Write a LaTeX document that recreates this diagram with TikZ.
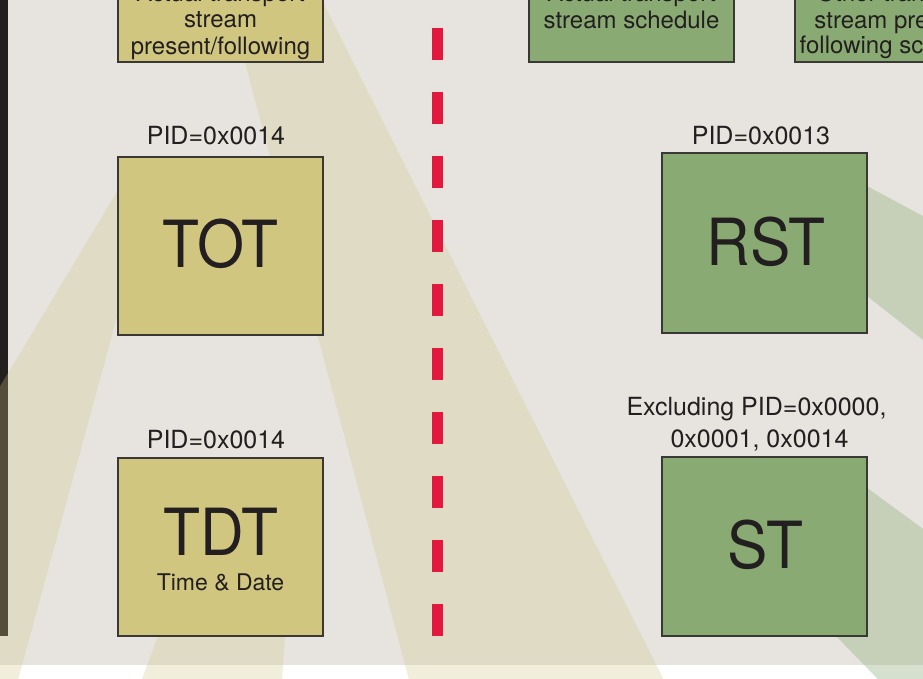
\documentclass[tikz,border=0pt]{standalone}
\usepackage{fontspec}
\setmainfont{TeX Gyre Heros}
\usepackage{graphicx}
\definecolor{bgc}{RGB}{231,228,224}
\definecolor{khaki}{RGB}{208,198,128}
\definecolor{sgreen}{RGB}{137,171,115}
\definecolor{edgec}{RGB}{58,56,52}
\definecolor{ink}{RGB}{35,31,32}
\definecolor{dashred}{RGB}{226,24,62}
\begin{document}
\begin{tikzpicture}[x=1pt,y=-1pt,
  kbox/.style={draw=edgec, line width=1.3pt, fill=khaki, rectangle, inner sep=0pt, minimum width=205pt},
  gbox/.style={draw=edgec, line width=1.3pt, fill=sgreen, rectangle, inner sep=0pt, minimum width=205pt},
  kbeam/.style={fill=khaki, fill opacity=0.28},
  gbeam/.style={fill=sgreen, fill opacity=0.35},
  lbl/.style={inner sep=0pt, anchor=base, text=ink, font=\fontsize{24}{28}\selectfont},
  pidlbl/.style={lbl, font=\fontsize{25}{29}\selectfont},
  big/.style={inner sep=0pt, anchor=base, text=ink, font=\fontsize{65}{70}\selectfont},
  divider/.style={draw=dashred, line width=11pt, dash pattern=on 32pt off 32pt}
]
\useasboundingbox (0,0) rectangle (923,679);
\clip (0,0) rectangle (923,679);
% background
\fill[bgc] (0,0) rectangle (923,665);
\fill[white] (0,665) rectangle (923,679);
% left bar
\fill[ink] (0,-5) rectangle (8,636);
% beams
\fill[kbeam] (124,180) -- (160,180) -- (160,290) -- (124.4,290) -- (18.3,679) -- (-10,679) -- (-10,403) -- cycle;
\fill[kbeam] (225.8,-10) -- (316.8,-10) -- (663.4,679) -- (408.8,679) -- cycle;
\fill[kbeam] (171.4,600) -- (287.5,600) -- (282,679) -- (142,679) -- cycle;
\fill[gbeam] (840,171.5) -- (930,219.8) -- (930,345.5) -- (840,274.8) -- cycle;
\fill[gbeam] (840,468) -- (930,534) -- (930,679) -- (877.7,679) -- (801,600) -- cycle;
% top boxes
\node[kbox, minimum height=142pt] (boxa) at (220.5,-9) {};
\node[gbox, minimum height=142pt] (boxb) at (631.5,-9) {};
\node[gbox, minimum height=142pt] (boxc) at (897.5,-9) {};
\node[lbl] (a1) at (220.5,1.2) {Actual transport};
\node[lbl] (a2) at (220.5,27.7) {stream};
\node[lbl] (a3) at (220.5,54.3) {present/following};
\node[lbl] (b1) at (631.5,1.8) {Actual transport};
\node[lbl] (b2) at (631.5,28.3) {stream schedule};
\node[lbl] (c1) at (897.5,1.8) {Other transport};
\node[lbl] (c2) at (897.5,28.3) {stream present/};
\node[lbl] (c3) at (897.5,53.8) {following schedule};
% main boxes
\node[kbox, minimum height=178pt] (tot) at (220.5,246) {};
\node[kbox, minimum height=178pt] (tdt) at (220.5,547) {};
\node[gbox, minimum height=180pt] (rst) at (764.5,243) {};
\node[gbox, minimum height=179pt] (st) at (764.5,546.5) {};
\node[big] (totl) at (220.5,267) {\scalebox{0.93}[1]{TOT}};
\node[big] (tdtl) at (220.5,555) {\scalebox{0.93}[1]{TDT}};
\node[lbl, font=\fontsize{23}{27}\selectfont] (tdts) at (220.5,590) {Time \& Date};
\node[big] (rstl) at (766,265) {\scalebox{0.93}[1]{RST}};
\node[big] (stl) at (765.5,568) {\scalebox{0.93}[1]{ST}};
% labels
\node[pidlbl] (pidtot) at (216,145) {PID=0x0014};
\node[pidlbl] (pidtdt) at (216,448) {PID=0x0014};
\node[pidlbl] (pidrst) at (761,145) {PID=0x0013};
\node[pidlbl] (pidst1) at (756.5,415) {Excluding PID=0x0000,};
\node[pidlbl] (pidst2) at (759.5,447) {0x0001, 0x0014};
% divider
\coordinate (dtop) at (437.5,28);
\coordinate (dbot) at (437.5,636);
\draw[divider] (dtop) -- (dbot);
\end{tikzpicture}
\end{document}
